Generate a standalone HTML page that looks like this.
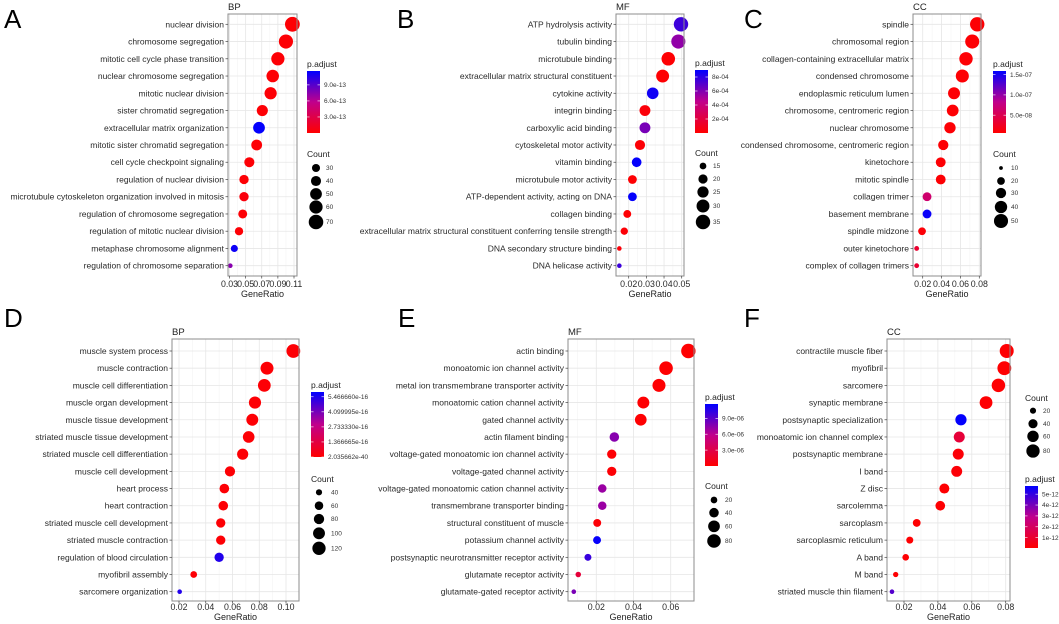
<!DOCTYPE html>
<html><head><meta charset="utf-8"><style>
html,body{margin:0;padding:0;background:#fff;}
svg{display:block;font-family:"Liberation Sans",Arial,sans-serif;}
</style></head><body>
<svg id="fig" width="1059" height="624" viewBox="0 0 1059 624" xmlns="http://www.w3.org/2000/svg">
<defs>
<linearGradient id="cbgrad" x1="0" y1="1" x2="0" y2="0">
<stop offset="0" stop-color="#ff0000"/><stop offset="0.5" stop-color="#c0008c"/><stop offset="1" stop-color="#0000ff"/>
</linearGradient>
</defs>
</svg>
<script>
// ---------- Panel A (BP) ----------
const termsA=["nuclear division","chromosome segregation","mitotic cell cycle phase transition","nuclear chromosome segregation","mitotic nuclear division","sister chromatid segregation","extracellular matrix organization","mitotic sister chromatid segregation","cell cycle checkpoint signaling","regulation of nuclear division","microtubule cytoskeleton organization involved in mitosis","regulation of chromosome segregation","regulation of mitotic nuclear division","metaphase chromosome alignment","regulation of chromosome separation"];
const ratioA=[0.108,0.100,0.090,0.0836,0.081,0.0707,0.0666,0.0637,0.0546,0.048,0.048,0.0464,0.0418,0.036,0.031];
const countA=[72,67,60,55,53,46,50,44,40,36,36,34,31,26,18];
const padjA=[0.02e-12,0.02e-12,0.02e-12,0.02e-12,0.02e-12,0.02e-12,1.15e-12,0.02e-12,0.02e-12,0.02e-12,0.05e-12,0.02e-12,0.02e-12,1.12e-12,0.75e-12];
const xticksA=[0.03,0.05,0.07,0.09,0.11];
const xtickLabelsA=["0.03","0.05","0.07","0.09","0.11"];
const cbValsA=[9e-13,6e-13,3e-13];
const cbLabelsA=["9.0e-13","6.0e-13","3.0e-13"];
const cntBreaksA=[30,40,50,60,70];
// ---------- Panel B (MF) ----------
const termsB=["ATP hydrolysis activity","tubulin binding","microtubule binding","extracellular matrix structural constituent","cytokine activity","integrin binding","carboxylic acid binding","cytoskeletal motor activity","vitamin binding","microtubule motor activity","ATP-dependent activity, acting on DNA","collagen binding","extracellular matrix structural constituent conferring tensile strength","DNA secondary structure binding","DNA helicase activity"];
const ratioB=[0.0496,0.0481,0.0424,0.0392,0.0336,0.0292,0.0292,0.0264,0.0245,0.0221,0.0221,0.0192,0.0175,0.0147,0.0147];
const countB=[35,34,32,30,26,24,24,22,21,19,19,17,16,12,12];
const padjB=[7.6e-4,5.6e-4,0.1e-4,0.1e-4,8.6e-4,0.3e-4,6.2e-4,0.2e-4,8.9e-4,0.1e-4,8.9e-4,0.1e-4,0.2e-4,0.3e-4,7.6e-4];
const xticksB=[0.02,0.03,0.04,0.05];
const xtickLabelsB=["0.02","0.03","0.04","0.05"];
const cbValsB=[8e-4,6e-4,4e-4,2e-4];
const cbLabelsB=["8e-04","6e-04","4e-04","2e-04"];
const cntBreaksB=[15,20,25,30,35];
// ---------- Panel C (CC) ----------
const termsC=["spindle","chromosomal region","collagen-containing extracellular matrix","condensed chromosome","endoplasmic reticulum lumen","chromosome, centromeric region","nuclear chromosome","condensed chromosome, centromeric region","kinetochore","mitotic spindle","collagen trimer","basement membrane","spindle midzone","outer kinetochore","complex of collagen trimers"];
const ratioC=[0.0778,0.0725,0.0659,0.062,0.0532,0.0518,0.0489,0.0418,0.0391,0.0391,0.0246,0.0246,0.0193,0.0136,0.0136];
const countC=[52,50,46,44,38,37,35,30,28,28,24,24,20,12,12];
const padjC=[0.8e-8,0.8e-8,0.8e-8,0.8e-8,0.9e-8,0.8e-8,0.9e-8,0.8e-8,0.8e-8,0.8e-8,6.5e-8,1.55e-7,1.0e-8,3.2e-8,3.2e-8];
const xticksC=[0.02,0.04,0.06,0.08];
const xtickLabelsC=["0.02","0.04","0.06","0.08"];
const cbValsC=[1.5e-7,1.0e-7,5.0e-8];
const cbLabelsC=["1.5e-07","1.0e-07","5.0e-08"];
const cntBreaksC=[10,20,30,40,50];
// ---------- Panel D (BP) ----------
const termsD=["muscle system process","muscle contraction","muscle cell differentiation","muscle organ development","muscle tissue development","striated muscle tissue development","striated muscle cell differentiation","muscle cell development","heart process","heart contraction","striated muscle cell development","striated muscle contraction","regulation of blood circulation","myofibril assembly","sarcomere organization"];
const ratioD=[0.1055,0.0858,0.0838,0.0768,0.0748,0.0721,0.0676,0.0581,0.0539,0.0531,0.0512,0.0512,0.050,0.031,0.0205];
const countD=[128,115,112,103,100,96,90,78,72,71,68,68,68,44,30];
const padjD=[0.1e-16,0.1e-16,0.1e-16,0.1e-16,0.1e-16,0.1e-16,0.1e-16,0.1e-16,0.1e-16,0.1e-16,0.1e-16,0.1e-16,5.4e-16,0.1e-16,5.4e-16];
const xticksD=[0.02,0.04,0.06,0.08,0.10];
const xtickLabelsD=["0.02","0.04","0.06","0.08","0.10"];
const cbValsD=[5.46666e-16,4.099995e-16,2.73333e-16,1.366665e-16,2.035662e-40];
const cbLabelsD=["5.466660e-16","4.099995e-16","2.733330e-16","1.366665e-16","2.035662e-40"];
const cntBreaksD=[40,60,80,100,120];
// ---------- Panel E (MF) ----------
const termsE=["actin binding","monoatomic ion channel activity","metal ion transmembrane transporter activity","monoatomic cation channel activity","gated channel activity","actin filament binding","voltage-gated monoatomic ion channel activity","voltage-gated channel activity","voltage-gated monoatomic cation channel activity","transmembrane transporter binding","structural constituent of muscle","potassium channel activity","postsynaptic neurotransmitter receptor activity","glutamate receptor activity","glutamate-gated receptor activity"];
const ratioE=[0.0695,0.0575,0.0537,0.0453,0.0439,0.0297,0.0283,0.0283,0.0232,0.0232,0.0205,0.0204,0.0155,0.0103,0.0079];
const countE=[90,80,74,62,60,40,38,38,32,32,28,28,22,14,10];
const padjE=[0.1e-6,0.1e-6,0.1e-6,0.1e-6,0.1e-6,7.6e-6,0.2e-6,0.2e-6,7.0e-6,7.0e-6,0.3e-6,11.5e-6,10.0e-6,2.4e-6,8.0e-6];
const xticksE=[0.02,0.04,0.06];
const xtickLabelsE=["0.02","0.04","0.06"];
const cbValsE=[9e-6,6e-6,3e-6];
const cbLabelsE=["9.0e-06","6.0e-06","3.0e-06"];
const cntBreaksE=[20,40,60,80];
// ---------- Panel F (CC) ----------
const termsF=["contractile muscle fiber","myofibril","sarcomere","synaptic membrane","postsynaptic specialization","monoatomic ion channel complex","postsynaptic membrane","I band","Z disc","sarcolemma","sarcoplasm","sarcoplasmic reticulum","A band","M band","striated muscle thin filament"];
const ratioF=[0.0806,0.0792,0.0757,0.0684,0.0536,0.0526,0.052,0.0511,0.0438,0.0414,0.0275,0.0234,0.021,0.0151,0.0129];
const countF=[88,86,82,74,58,56,56,55,47,44,30,25,23,16,13];
const padjF=[0.1e-12,0.1e-12,0.1e-12,0.1e-12,5.7e-12,1.2e-12,0.2e-12,0.2e-12,0.1e-12,0.1e-12,0.1e-12,0.1e-12,0.1e-12,0.1e-12,4.5e-12];
const xticksF=[0.02,0.04,0.06,0.08];
const xtickLabelsF=["0.02","0.04","0.06","0.08"];
const cbValsF=[5e-12,4e-12,3e-12,2e-12,1e-12];
const cbLabelsF=["5e-12","4e-12","3e-12","2e-12","1e-12"];
const cntBreaksF=[20,40,60,80];

const NS="http://www.w3.org/2000/svg";
const svgEl=document.getElementById('fig');
function mk(tag,attrs,parent){const e=document.createElementNS(NS,tag);for(const k in attrs)e.setAttribute(k,attrs[k]);(parent||svgEl).appendChild(e);return e;}
function mix(a,b,t){return a.map((v,i)=>Math.round(v+(b[i]-v)*t));}
function colorFor(t){t=Math.max(0,Math.min(1,t));const R=[255,0,0],M=[192,0,140],B=[0,0,255];const c=t<0.5?mix(R,M,t/0.5):mix(M,B,(t-0.5)/0.5);return `rgb(${c[0]},${c[1]},${c[2]})`;}

function drawPanel(P){
  const g=mk('g',{});
  
  
  const xs=v=>P.x0p+(v-P.x0v)*(P.x1p-P.x0p)/(P.x1v-P.x0v);
  const n=P.terms.length;
  const ys=i=>P.y0+i*(P.y1-P.y0)/(n-1);
  const cmin=Math.min(...P.count),cmax=Math.max(...P.count);
  const rs=c=>{const t=(c-cmin)/(cmax-cmin);return Math.sqrt(Math.max(0.5,P.r0*P.r0+t*(P.r1*P.r1-P.r0*P.r0)));};
  const ct=v=>(v-P.vmin)/(P.vmax-P.vmin);
  const L=mk('text',{x:P.letterX,y:P.letterY,'font-size':26,fill:'#000'},g);L.textContent=P.letter;
  
  
  const T=mk('text',{x:P.L,y:P.titleY,'font-size':9.5,fill:'#222'},g);T.textContent=P.title;
  
  
  mk('rect',{x:P.L,y:P.T,width:P.R-P.L,height:P.B-P.T,fill:'#fff'},g);
  for(let i=0;i<P.ticks.length;i++){
    const x=xs(P.ticks[i]);
    if(i<P.ticks.length-1){const xm=xs((P.ticks[i]+P.ticks[i+1])/2);mk('line',{x1:xm,x2:xm,y1:P.T,y2:P.B,stroke:'#f4f4f4','stroke-width':0.6},g);}
    if(i==0){const xm=xs(P.ticks[0]-(P.ticks[1]-P.ticks[0])/2);if(xm>P.L)mk('line',{x1:xm,x2:xm,y1:P.T,y2:P.B,stroke:'#f4f4f4','stroke-width':0.6},g);}
    mk('line',{x1:x,x2:x,y1:P.T,y2:P.B,stroke:'#e6e6e6','stroke-width':0.8},g);
  }
  for(let i=0;i<n;i++){const y=ys(i);mk('line',{x1:P.L,x2:P.R,y1:y,y2:y,stroke:'#e6e6e6','stroke-width':0.8},g);}
  for(let i=0;i<n;i++){
    const c=mk('circle',{cx:xs(P.ratio[i]),cy:ys(i),r:rs(P.count[i]).toFixed(2),fill:colorFor(ct(P.padj[i]))},g);
    
    
  }
  mk('rect',{x:P.L,y:P.T,width:P.R-P.L,height:P.B-P.T,fill:'none',stroke:'#8c8c8c','stroke-width':1},g);
  for(let i=0;i<n;i++){
    const y=ys(i);
    mk('line',{x1:P.L-2.5,x2:P.L,y1:y,y2:y,stroke:'#444','stroke-width':0.7},g);
    const t=mk('text',{x:P.L-4,y:y+3,'font-size':8.5,'text-anchor':'end',fill:'#2a2a2a'},g);t.textContent=P.terms[i];
    
    
  }
  for(let i=0;i<P.ticks.length;i++){
    const x=xs(P.ticks[i]);
    mk('line',{x1:x,x2:x,y1:P.B,y2:P.B+2.5,stroke:'#444','stroke-width':0.7},g);
    const t=mk('text',{x:x,y:P.tickY,'font-size':8.8,'text-anchor':'middle',fill:'#2a2a2a'},g);t.textContent=P.tickLabels[i];
    
    
  }
  const xl=mk('text',{x:(P.L+P.R)/2,y:P.xlabY,'font-size':9,'text-anchor':'middle',fill:'#222'},g);xl.textContent='GeneRatio';
  
  
  const cb=P.cb;
  const cbt=mk('text',{x:cb.x,y:cb.y0-4,'font-size':8.5,fill:'#222'},g);cbt.textContent='p.adjust';
  
  
  const bar=mk('rect',{x:cb.x,y:cb.y0,width:13,height:cb.y1-cb.y0,fill:'url(#cbgrad)'},g);
  
  
  for(let i=0;i<P.cbVals.length;i++){
    const y=cb.y1-ct(P.cbVals[i])*(cb.y1-cb.y0);
    mk('line',{x1:cb.x,x2:cb.x+2.5,y1:y,y2:y,stroke:'#fff','stroke-width':0.6},g);
    mk('line',{x1:cb.x+10.5,x2:cb.x+13,y1:y,y2:y,stroke:'#fff','stroke-width':0.6},g);
    const t=mk('text',{x:cb.x+17,y:y+2.2,'font-size':6.5,fill:'#333'},g);t.textContent=P.cbLabels[i];
    
    
  }
  const cl=P.cl;
  const clt=mk('text',{x:cl.x,y:cl.titleY,'font-size':8.5,fill:'#222'},g);clt.textContent='Count';
  
  
  for(let i=0;i<P.cnt.length;i++){
    const cy=cl.ys[i];
    const c=mk('circle',{cx:cl.cx,cy:cy,r:rs(P.cnt[i]).toFixed(2),fill:'#000'},g);
    
    
    const t=mk('text',{x:cl.lx,y:cy+2.2,'font-size':6.5,fill:'#333'},g);t.textContent=P.cnt[i];
    
    
  }
}
const rowTop={T:14,B:276,y0:24.3,y1:265.7,titleY:10,tickY:287,xlabY:297,letterY:28};
const rowBot={T:339,B:601,y0:351,y1:591.7,titleY:335,tickY:610,xlabY:620,letterY:327};
drawPanel(Object.assign({},rowTop,{letter:'A',letterX:4,title:'BP',L:228,R:297,x0v:0.03,x0p:229.5,x1v:0.11,x1p:294,ticks:xticksA,tickLabels:xtickLabelsA,terms:termsA,ratio:ratioA,count:countA,padj:padjA,r0:2.3,r1:7.4,vmin:0,vmax:1.16e-12,cb:{x:307,y0:71,y1:133},cbVals:cbValsA,cbLabels:cbLabelsA,cnt:cntBreaksA,cl:{x:307,titleY:157,cx:316,lx:326,ys:[168,181,194,207,222]}}));
drawPanel(Object.assign({},rowTop,{letter:'B',letterX:397,title:'MF',L:616,R:684,x0v:0.02,x0p:628.7,x1v:0.05,x1p:681.7,ticks:xticksB,tickLabels:xtickLabelsB,terms:termsB,ratio:ratioB,count:countB,padj:padjB,r0:2.3,r1:7.2,vmin:0,vmax:9e-4,cb:{x:695,y0:70,y1:133},cbVals:cbValsB,cbLabels:cbLabelsB,cnt:cntBreaksB,cl:{x:695,titleY:156,cx:703,lx:713,ys:[166,179,192,206,222]}}));
drawPanel(Object.assign({},rowTop,{letter:'C',letterX:744,title:'CC',L:913,R:981,x0v:0.02,x0p:922.7,x1v:0.08,x1p:979.3,ticks:xticksC,tickLabels:xtickLabelsC,terms:termsC,ratio:ratioC,count:countC,padj:padjC,r0:2.4,r1:7.2,vmin:0.6e-8,vmax:1.59e-7,cb:{x:993,y0:71,y1:133},cbVals:cbValsC,cbLabels:cbLabelsC,cnt:cntBreaksC,cl:{x:993,titleY:157,cx:1001,lx:1011,ys:[168,181,193,207,221]}}));
drawPanel(Object.assign({},rowBot,{letter:'D',letterX:4,title:'BP',L:172,R:299,x0v:0.02,x0p:179,x1v:0.10,x1p:286,ticks:xticksD,tickLabels:xtickLabelsD,terms:termsD,ratio:ratioD,count:countD,padj:padjD,r0:2.3,r1:6.9,vmin:0,vmax:5.9e-16,cb:{x:311,y0:392,y1:457},cbVals:cbValsD,cbLabels:cbLabelsD,cnt:cntBreaksD,cl:{x:311,titleY:482,cx:319,lx:331,ys:[492.3,505.7,519,533.3,548.3]}}));
drawPanel(Object.assign({},rowBot,{letter:'E',letterX:398,title:'MF',L:568,R:694,x0v:0.02,x0p:596.3,x1v:0.06,x1p:670.7,ticks:xticksE,tickLabels:xtickLabelsE,terms:termsE,ratio:ratioE,count:countE,padj:padjE,r0:2.3,r1:7.2,vmin:0,vmax:1.17e-5,cb:{x:705,y0:404,y1:466},cbVals:cbValsE,cbLabels:cbLabelsE,cnt:cntBreaksE,cl:{x:705,titleY:489,cx:714,lx:725,ys:[500,512.7,526.3,541]}}));
drawPanel(Object.assign({},rowBot,{letter:'F',letterX:744,title:'CC',L:887,R:1010,x0v:0.02,x0p:904,x1v:0.08,x1p:1005.7,ticks:xticksF,tickLabels:xtickLabelsF,terms:termsF,ratio:ratioF,count:countF,padj:padjF,r0:2.3,r1:7.0,vmin:0.05e-12,vmax:5.75e-12,cb:{x:1025,y0:486,y1:548},cbVals:cbValsF,cbLabels:cbLabelsF,cnt:cntBreaksF,cl:{x:1025,titleY:401,cx:1033,lx:1043,ys:[410.7,423.7,436.3,451]}}));
</script>
</body></html>
